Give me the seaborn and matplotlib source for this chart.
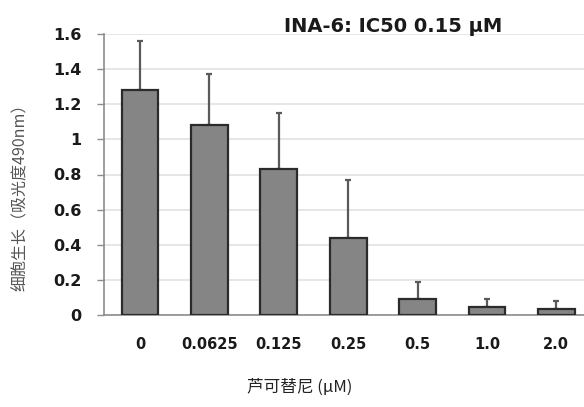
import matplotlib
matplotlib.use("Agg")
import matplotlib.pyplot as plt
import seaborn as sns
import pandas as pd
import numpy as np
from matplotlib.ticker import FuncFormatter

concentrations = ["0", "0.0625", "0.125", "0.25", "0.5", "1.0", "2.0"]
growth = [1.28, 1.08, 0.83, 0.44, 0.09, 0.045, 0.035]
err_upper = [0.28, 0.29, 0.32, 0.33, 0.10, 0.045, 0.045]
yticks = [0, 0.2, 0.4, 0.6, 0.8, 1.0, 1.2, 1.4, 1.6]

sns.set_theme(style="white")
plt.rcParams['font.family'] = ['DejaVu Sans', 'Noto Sans CJK SC']

df = pd.DataFrame({"conc": concentrations, "growth": growth})

fig = plt.figure(figsize=(5.84, 4.07), dpi=100)
ax = fig.add_axes([104/584, (407-315)/407, (584-104)/584, 281/407])

sns.barplot(data=df, x="conc", y="growth", order=concentrations, color="#858585",
            edgecolor="#2b2b2b", linewidth=1.6, width=0.53, saturation=1, ax=ax, zorder=3)
x = np.arange(len(concentrations))
ax.errorbar(x, growth, yerr=[np.zeros(len(growth)), err_upper], fmt="none",
            ecolor="#5a5a5a", elinewidth=1.6, capsize=2.5, capthick=1.6, zorder=2)

ax.set_ylim(0, 1.6)
ax.set_xlim(-0.52, 6.4)
ax.set_yticks(yticks)
ax.yaxis.set_major_formatter(FuncFormatter(lambda v, p: "%g" % v))
ax.grid(axis="y", color="#e2e2e2", linewidth=1.2, zorder=0)
ax.set_axisbelow(True)
for s in ["top", "right"]:
    ax.spines[s].set_visible(False)
for s in ["left", "bottom"]:
    ax.spines[s].set_color("#8c8c8c")
    ax.spines[s].set_linewidth(1.2)
ax.tick_params(axis="y", left=True, length=5, width=1, color="#8c8c8c", pad=11,
               labelsize=11.5)
ax.tick_params(axis="x", bottom=False, pad=10, labelsize=10.5)
for lab in ax.get_yticklabels() + ax.get_xticklabels():
    lab.set_fontweight("bold")
    lab.set_color("#1a1a1a")

ax.set_xlabel("")
ax.set_ylabel("")
fig.text(20/584, 1 - 193/407, "细胞生长（吸光度490nm）", rotation=90, ha="center", va="center",
         fontsize=11.5, color="#555555", family=['Noto Sans CJK SC', 'DejaVu Sans'])
fig.text(300/584, 1 - 387/407, "芦可替尼 (μM)", ha="center", va="center",
         fontsize=12, color="#222222", family=['Noto Sans CJK SC', 'DejaVu Sans'])
fig.text(393/584, 1 - 27/407, "INA-6: IC50 0.15 μM", ha="center", va="center",
         fontsize=14, fontweight="bold", color="#1a1a1a")

fig.savefig("out.png", dpi=100)
